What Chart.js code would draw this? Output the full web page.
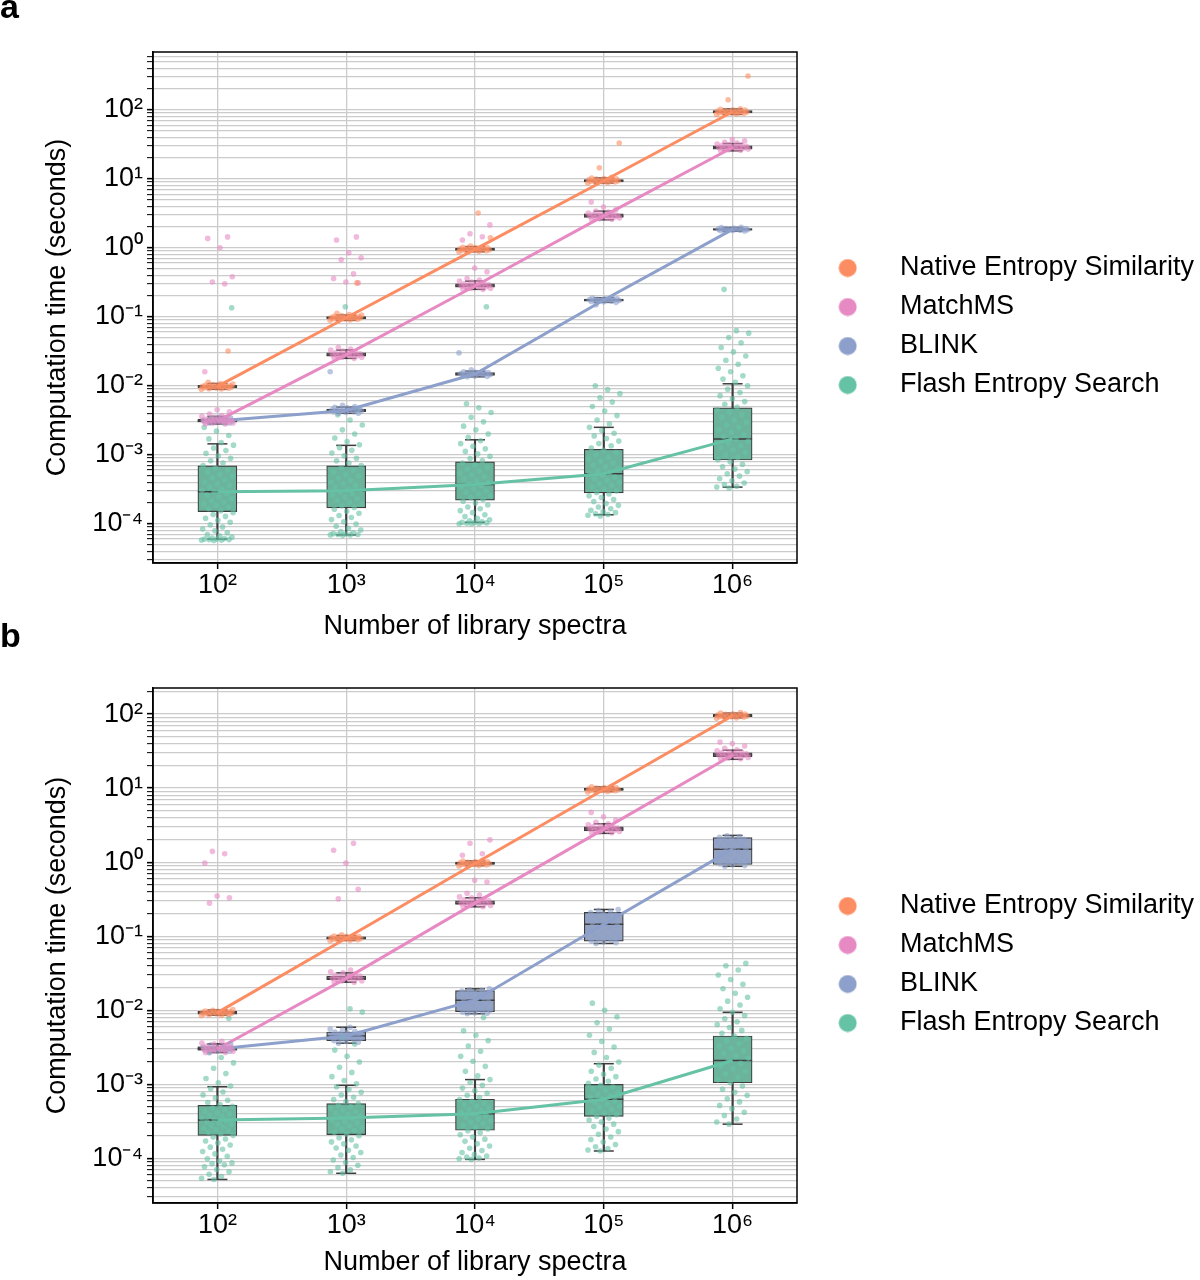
<!DOCTYPE html>
<html><head><meta charset="utf-8">
<script src="https://cdn.jsdelivr.net/npm/chart.js@4.4.1/dist/chart.umd.min.js"></script>
<style>
html,body{margin:0;padding:0;background:#fff;}
#wrap{position:relative;width:1200px;height:1280px;overflow:hidden;background:#fff;}
#ca{position:absolute;left:0;top:0;}
#cb{position:absolute;left:0;top:620px;}
</style></head><body>
<div id="wrap"><canvas id="ca" width="1200" height="640"></canvas><canvas id="cb" width="1200" height="660"></canvas></div>
<script>
// ---------------- DATA ----------------
const xLabels = ['10²', '10³', '10⁴', '10⁵', '10⁶'];
const seriesNames = ['Native Entropy Similarity', 'MatchMS', 'BLINK', 'Flash Entropy Search'];
const yDecadeExps = [-5, -4, -3, -2, -1, 0, 1, 2];
const yMinorMantissas = [1, 2, 3, 4, 5, 6, 7, 8, 9];
const yMajorExps = [-4, -3, -2, -1, 0, 1, 2];
const yMajorLabels = ['10⁻⁴', '10⁻³', '10⁻²', '10⁻¹', '10⁰', '10¹', '10²'];
const aYRange = [2.7e-5, 690];
const bYRange = [2.5e-5, 225];

// box statistics per library size: [lower whisker, Q1, median, Q3, upper whisker]
const aNativeStats = [[0.0089,0.0094,0.0098,0.0102,0.0108],[0.089,0.093,0.097,0.101,0.106],[0.88,0.92,0.95,0.99,1.04],[8.7,9.0,9.4,9.8,10.3],[86,90,94,98,103]];
const aMatchStats  = [[0.0028,0.0030,0.0031,0.0033,0.0036],[0.025,0.027,0.028,0.030,0.033],[0.25,0.27,0.28,0.30,0.33],[2.55,2.75,2.9,3.1,3.4],[25.5,27,28.5,30,32.5]];
const aBlinkStats  = [[0.0029,0.0030,0.0031,0.0032,0.0034],[0.0040,0.0042,0.0044,0.0046,0.0049],[0.0135,0.0142,0.0148,0.0155,0.0163],[0.162,0.169,0.175,0.181,0.189],[1.74,1.80,1.85,1.90,1.97]];
const aFlashStats  = [[6.0e-5,1.5e-4,2.9e-4,6.9e-4,1.44e-3],[6.9e-5,1.7e-4,3.0e-4,6.9e-4,1.37e-3],[1.05e-4,2.2e-4,3.7e-4,7.9e-4,1.65e-3],[1.35e-4,2.8e-4,5.3e-4,1.2e-3,2.5e-3],[3.4e-4,8.4e-4,1.7e-3,4.8e-3,1.07e-2]];

const bNativeStats = [[0.0086,0.0089,0.0093,0.0097,0.0101],[0.088,0.091,0.094,0.098,0.102],[0.90,0.93,0.96,1.00,1.04],[9.0,9.3,9.6,10.0,10.4],[89,92,95,99,103]];
const bMatchStats  = [[0.0027,0.0029,0.0030,0.0032,0.0035],[0.024,0.026,0.027,0.029,0.032],[0.25,0.27,0.28,0.30,0.33],[2.45,2.65,2.8,3.0,3.3],[24.5,26.5,28,30,32.5]];
const bBlinkStats  = [[0.0027,0.0029,0.0030,0.0032,0.0035],[0.0036,0.0039,0.0045,0.0051,0.0059],[0.0090,0.0096,0.0137,0.0185,0.0195],[0.080,0.086,0.145,0.21,0.23],[0.88,0.93,1.5,2.15,2.3]];
const bFlashStats  = [[5.2e-5,2.04e-4,3.3e-4,5.2e-4,9.3e-4],[6.3e-5,2.1e-4,3.5e-4,5.5e-4,9.7e-4],[9.7e-5,2.4e-4,4.0e-4,6.3e-4,1.16e-3],[1.26e-4,3.7e-4,6.3e-4,1.0e-3,1.9e-3],[2.9e-4,1.05e-3,2.1e-3,4.5e-3,9.4e-3]];

// individual query times (strip points) per library size
const aNativePts = [
  [0.0089,0.0090,0.0091,0.0092,0.0093,0.0094,0.0094,0.0095,0.0096,0.0096,0.0097,0.0097,0.0098,0.0098,0.0099,0.0099,0.0100,0.0101,0.0102,0.0103,0.0104,0.0106,0.0108,0.0112,0.032],
  [0.089,0.090,0.091,0.092,0.093,0.094,0.094,0.095,0.096,0.096,0.097,0.097,0.098,0.098,0.099,0.099,0.100,0.101,0.102,0.103,0.104,0.106,0.108,0.112,0.31],
  [0.88,0.89,0.90,0.91,0.92,0.92,0.93,0.94,0.94,0.95,0.95,0.96,0.96,0.97,0.98,0.99,1.00,1.01,1.02,1.04,1.06,1.4,3.2],
  [8.7,8.8,8.9,9.0,9.1,9.2,9.2,9.3,9.4,9.4,9.5,9.5,9.6,9.7,9.8,9.9,10.0,10.1,10.3,10.5,14.5,33],
  [86,87,88,89,90,91,91,92,93,93,94,94,95,96,97,98,99,100,102,104,140,310]];
const aMatchPts = [
  [0.0028,0.0028,0.0029,0.0029,0.0030,0.0030,0.0030,0.0031,0.0031,0.0031,0.0032,0.0032,0.0033,0.0033,0.0034,0.0035,0.0036,0.0037,0.0039,0.0042,0.0045,0.016,0.30,0.32,0.38,1.0,1.37,1.44],
  [0.025,0.025,0.026,0.026,0.027,0.027,0.027,0.028,0.028,0.028,0.029,0.029,0.030,0.030,0.031,0.032,0.033,0.034,0.036,0.31,0.32,0.36,0.42,0.67,0.72,0.85,1.3,1.44],
  [0.25,0.25,0.26,0.26,0.27,0.27,0.27,0.28,0.28,0.28,0.29,0.29,0.30,0.30,0.31,0.32,0.33,0.34,0.36,0.45,0.51,1.3,1.45,1.6,2.15],
  [2.55,2.6,2.65,2.7,2.72,2.75,2.8,2.82,2.85,2.9,2.92,2.95,3.0,3.05,3.1,3.15,3.2,3.3,3.4,3.55,3.9,4.6],
  [25.5,26,26.5,27,27.2,27.5,28,28.2,28.5,29,29.3,29.6,30,30.5,31,31.5,32,33,34,35.5,37]];
const aBlinkPts = [
  [0.0029,0.0029,0.0030,0.0030,0.0030,0.0031,0.0031,0.0031,0.0031,0.0032,0.0032,0.0032,0.0033,0.0033,0.0034,0.0035],
  [0.0040,0.0040,0.0041,0.0042,0.0042,0.0043,0.0043,0.0044,0.0044,0.0044,0.0045,0.0045,0.0046,0.0046,0.0047,0.0048,0.0049,0.0050,0.0052,0.016],
  [0.0135,0.0137,0.0139,0.0141,0.0143,0.0144,0.0145,0.0147,0.0148,0.0148,0.0149,0.0150,0.0152,0.0153,0.0155,0.0157,0.0160,0.0164,0.0170,0.030],
  [0.150,0.162,0.165,0.167,0.169,0.171,0.172,0.173,0.175,0.175,0.176,0.178,0.179,0.180,0.182,0.184,0.187,0.190],
  [1.74,1.76,1.78,1.79,1.80,1.81,1.83,1.84,1.85,1.85,1.86,1.87,1.88,1.90,1.91,1.93,1.96,1.99]];
const aFlashPts = [
  [5.7e-5,5.8e-5,5.8e-5,5.9e-5,5.9e-5,6.0e-5,6.0e-5,6.1e-5,6.2e-5,6.4e-5,6.7e-5,7.0e-5,7.4e-5,7.9e-5,8.4e-5,9.0e-5,9.7e-5,1.05e-4,1.12e-4,1.2e-4,1.28e-4,1.36e-4,1.45e-4,1.55e-4,1.65e-4,1.75e-4,1.85e-4,1.95e-4,2.05e-4,2.15e-4,2.3e-4,2.45e-4,2.6e-4,2.75e-4,2.9e-4,3.05e-4,3.2e-4,3.4e-4,3.6e-4,3.8e-4,4.0e-4,4.3e-4,4.6e-4,4.9e-4,5.2e-4,5.6e-4,6.0e-4,6.5e-4,7.0e-4,7.6e-4,8.2e-4,8.9e-4,9.6e-4,1.05e-3,1.15e-3,1.25e-3,1.38e-3,1.5e-3,1.7e-3,1.9e-3,2.2e-3,2.5e-3,2.9e-3,3.4e-3,0.135],
  [6.8e-5,6.9e-5,6.9e-5,7.0e-5,7.0e-5,7.1e-5,7.2e-5,7.4e-5,7.7e-5,8.1e-5,8.6e-5,9.2e-5,9.9e-5,1.07e-4,1.15e-4,1.23e-4,1.32e-4,1.42e-4,1.52e-4,1.62e-4,1.72e-4,1.82e-4,1.93e-4,2.05e-4,2.17e-4,2.3e-4,2.45e-4,2.6e-4,2.75e-4,2.9e-4,3.05e-4,3.2e-4,3.4e-4,3.6e-4,3.8e-4,4.0e-4,4.3e-4,4.6e-4,4.9e-4,5.2e-4,5.6e-4,6.0e-4,6.5e-4,7.0e-4,7.6e-4,8.2e-4,8.9e-4,9.7e-4,1.06e-3,1.16e-3,1.27e-3,1.4e-3,1.55e-3,1.75e-3,2.0e-3,2.3e-3,2.7e-3,3.2e-3,3.8e-3,4.5e-3,0.14],
  [1.0e-4,1.0e-4,1.01e-4,1.02e-4,1.03e-4,1.04e-4,1.05e-4,1.07e-4,1.1e-4,1.14e-4,1.2e-4,1.27e-4,1.35e-4,1.45e-4,1.55e-4,1.65e-4,1.75e-4,1.87e-4,2.0e-4,2.12e-4,2.25e-4,2.4e-4,2.55e-4,2.7e-4,2.85e-4,3.0e-4,3.2e-4,3.4e-4,3.6e-4,3.8e-4,4.0e-4,4.25e-4,4.5e-4,4.8e-4,5.1e-4,5.4e-4,5.8e-4,6.2e-4,6.6e-4,7.1e-4,7.6e-4,8.2e-4,8.8e-4,9.5e-4,1.03e-3,1.12e-3,1.22e-3,1.33e-3,1.45e-3,1.6e-3,1.8e-3,2.0e-3,2.3e-3,2.6e-3,3.0e-3,3.5e-3,4.1e-3,4.8e-3,5.5e-3,0.14],
  [1.3e-4,1.33e-4,1.36e-4,1.4e-4,1.45e-4,1.5e-4,1.57e-4,1.65e-4,1.75e-4,1.85e-4,1.97e-4,2.1e-4,2.25e-4,2.4e-4,2.55e-4,2.7e-4,2.85e-4,3.0e-4,3.2e-4,3.4e-4,3.6e-4,3.8e-4,4.0e-4,4.25e-4,4.5e-4,4.75e-4,5.0e-4,5.3e-4,5.6e-4,5.9e-4,6.3e-4,6.7e-4,7.1e-4,7.6e-4,8.1e-4,8.7e-4,9.3e-4,1.0e-3,1.08e-3,1.16e-3,1.25e-3,1.35e-3,1.46e-3,1.58e-3,1.72e-3,1.88e-3,2.05e-3,2.25e-3,2.5e-3,2.8e-3,3.2e-3,3.7e-3,4.3e-3,5.0e-3,5.8e-3,6.7e-3,7.7e-3,8.8e-3,1.0e-2],
  [3.3e-4,3.4e-4,3.5e-4,3.7e-4,3.9e-4,4.2e-4,4.5e-4,4.9e-4,5.3e-4,5.7e-4,6.2e-4,6.7e-4,7.3e-4,7.9e-4,8.5e-4,9.2e-4,1.0e-3,1.08e-3,1.17e-3,1.26e-3,1.36e-3,1.47e-3,1.58e-3,1.7e-3,1.83e-3,1.97e-3,2.12e-3,2.3e-3,2.5e-3,2.7e-3,2.95e-3,3.2e-3,3.5e-3,3.8e-3,4.15e-3,4.5e-3,4.9e-3,5.4e-3,5.9e-3,6.5e-3,7.2e-3,8.0e-3,8.9e-3,1.0e-2,1.12e-2,1.25e-2,1.4e-2,1.6e-2,1.8e-2,2.05e-2,2.35e-2,2.7e-2,3.1e-2,3.6e-2,4.2e-2,5.0e-2,5.8e-2,6.3e-2,0.25]];

const bNativePts = [
  [0.0085,0.0086,0.0087,0.0088,0.0089,0.0089,0.0090,0.0091,0.0091,0.0092,0.0093,0.0093,0.0094,0.0094,0.0095,0.0096,0.0096,0.0097,0.0098,0.0099,0.0100,0.0102],
  [0.087,0.088,0.089,0.090,0.091,0.091,0.092,0.093,0.093,0.094,0.094,0.095,0.096,0.096,0.097,0.098,0.099,0.100,0.101,0.103,0.105],
  [0.89,0.90,0.91,0.92,0.93,0.93,0.94,0.95,0.95,0.96,0.96,0.97,0.98,0.98,0.99,1.00,1.01,1.02,1.04,1.06],
  [8.9,9.0,9.1,9.2,9.3,9.3,9.4,9.5,9.5,9.6,9.6,9.7,9.8,9.8,9.9,10.0,10.1,10.2,10.4,10.6],
  [88,89,90,91,92,92,93,94,94,95,95,96,97,97,98,99,100,101,103,105]];
const bMatchPts = [
  [0.0027,0.0027,0.0028,0.0028,0.0029,0.0029,0.0030,0.0030,0.0030,0.0031,0.0031,0.0032,0.0032,0.0033,0.0034,0.0035,0.0036,0.0038,0.28,0.33,0.35,0.97,1.3,1.4],
  [0.024,0.024,0.025,0.025,0.026,0.026,0.027,0.027,0.027,0.028,0.028,0.029,0.029,0.030,0.031,0.032,0.033,0.035,0.32,0.43,0.97,1.45,1.8],
  [0.25,0.25,0.26,0.26,0.27,0.27,0.28,0.28,0.28,0.29,0.29,0.30,0.30,0.31,0.32,0.33,0.34,0.36,0.38,0.54,0.57,1.24,1.3,1.8,2.0],
  [2.45,2.5,2.55,2.6,2.65,2.7,2.72,2.75,2.8,2.82,2.85,2.9,2.95,3.0,3.05,3.1,3.2,3.3,3.45,3.7,4.1,4.7],
  [24.5,25,25.5,26,26.5,27,27.3,27.6,28,28.3,28.6,29,29.5,30,30.5,31,32,33,34.5,37,40,42]];
const bBlinkPts = [
  [0.0027,0.0028,0.0028,0.0029,0.0029,0.0030,0.0030,0.0030,0.0031,0.0031,0.0032,0.0032,0.0033,0.0034,0.0035],
  [0.0036,0.0037,0.0038,0.0039,0.0040,0.0041,0.0042,0.0043,0.0044,0.0044,0.0045,0.0046,0.0047,0.0048,0.0049,0.0050,0.0051,0.0052,0.0054,0.0056,0.0059],
  [0.0090,0.0091,0.0092,0.0094,0.0096,0.0098,0.0100,0.0103,0.0106,0.0110,0.0114,0.0118,0.0122,0.0127,0.0132,0.0137,0.0142,0.0147,0.0152,0.0157,0.0162,0.0167,0.0172,0.0177,0.0182,0.0186,0.0190,0.0195],
  [0.080,0.082,0.084,0.086,0.089,0.092,0.096,0.100,0.105,0.110,0.115,0.121,0.127,0.133,0.139,0.145,0.152,0.159,0.166,0.173,0.180,0.188,0.195,0.202,0.209,0.216,0.223,0.230],
  [0.88,0.90,0.92,0.95,0.98,1.02,1.06,1.10,1.15,1.20,1.26,1.32,1.38,1.44,1.50,1.57,1.64,1.71,1.78,1.85,1.92,1.98,2.04,2.10,2.16,2.22,2.28]];
const bFlashPts = [
  [5.2e-5,5.4e-5,5.7e-5,6.1e-5,6.6e-5,7.1e-5,7.7e-5,8.2e-5,8.5e-5,8.7e-5,9.2e-5,9.9e-5,1.07e-4,1.15e-4,1.24e-4,1.33e-4,1.42e-4,1.52e-4,1.62e-4,1.72e-4,1.83e-4,1.95e-4,2.05e-4,2.15e-4,2.25e-4,2.35e-4,2.45e-4,2.55e-4,2.66e-4,2.77e-4,2.88e-4,3.0e-4,3.12e-4,3.25e-4,3.38e-4,3.52e-4,3.67e-4,3.82e-4,3.98e-4,4.15e-4,4.35e-4,4.55e-4,4.8e-4,5.05e-4,5.35e-4,5.7e-4,6.1e-4,6.6e-4,7.2e-4,7.9e-4,8.7e-4,9.5e-4,1.05e-3,1.2e-3,1.4e-3,1.65e-3,1.95e-3,2.3e-3,2.7e-3,7.8e-3],
  [6.3e-5,6.6e-5,7.0e-5,7.5e-5,8.1e-5,8.8e-5,9.5e-5,1.03e-4,1.11e-4,1.2e-4,1.29e-4,1.38e-4,1.47e-4,1.57e-4,1.67e-4,1.78e-4,1.9e-4,2.02e-4,2.14e-4,2.26e-4,2.38e-4,2.5e-4,2.62e-4,2.75e-4,2.88e-4,3.01e-4,3.15e-4,3.3e-4,3.45e-4,3.6e-4,3.76e-4,3.93e-4,4.1e-4,4.3e-4,4.5e-4,4.72e-4,4.96e-4,5.22e-4,5.5e-4,5.85e-4,6.25e-4,6.7e-4,7.2e-4,7.8e-4,8.5e-4,9.3e-4,1.02e-3,1.13e-3,1.27e-3,1.45e-3,1.7e-3,2.0e-3,2.4e-3,2.9e-3,3.5e-3,4.3e-3,9.5e-3,1.05e-2],
  [9.7e-5,9.9e-5,1.01e-4,1.04e-4,1.08e-4,1.13e-4,1.2e-4,1.28e-4,1.37e-4,1.47e-4,1.58e-4,1.7e-4,1.82e-4,1.95e-4,2.08e-4,2.22e-4,2.36e-4,2.5e-4,2.65e-4,2.8e-4,2.95e-4,3.1e-4,3.26e-4,3.43e-4,3.6e-4,3.78e-4,3.97e-4,4.17e-4,4.38e-4,4.6e-4,4.83e-4,5.07e-4,5.33e-4,5.6e-4,5.9e-4,6.25e-4,6.65e-4,7.1e-4,7.6e-4,8.2e-4,8.9e-4,9.7e-4,1.06e-3,1.16e-3,1.3e-3,1.5e-3,1.75e-3,2.05e-3,2.4e-3,2.8e-3,3.3e-3,3.9e-3,4.6e-3,5.3e-3,8.0e-3],
  [1.26e-4,1.3e-4,1.36e-4,1.44e-4,1.54e-4,1.66e-4,1.8e-4,1.95e-4,2.12e-4,2.3e-4,2.5e-4,2.7e-4,2.9e-4,3.1e-4,3.3e-4,3.5e-4,3.7e-4,3.9e-4,4.1e-4,4.35e-4,4.6e-4,4.85e-4,5.1e-4,5.4e-4,5.7e-4,6.0e-4,6.3e-4,6.65e-4,7.0e-4,7.4e-4,7.8e-4,8.25e-4,8.7e-4,9.2e-4,9.7e-4,1.03e-3,1.1e-3,1.18e-3,1.27e-3,1.37e-3,1.5e-3,1.65e-3,1.82e-3,2.0e-3,2.3e-3,2.7e-3,3.2e-3,3.8e-3,4.6e-3,5.6e-3,6.8e-3,8.2e-3,1.0e-2,1.25e-2],
  [2.9e-4,3.1e-4,3.4e-4,3.8e-4,4.2e-4,4.7e-4,5.2e-4,5.8e-4,6.4e-4,7.1e-4,7.8e-4,8.6e-4,9.5e-4,1.05e-3,1.15e-3,1.26e-3,1.38e-3,1.5e-3,1.63e-3,1.77e-3,1.92e-3,2.08e-3,2.25e-3,2.43e-3,2.62e-3,2.83e-3,3.05e-3,3.3e-3,3.57e-3,3.86e-3,4.17e-3,4.5e-3,4.9e-3,5.35e-3,5.85e-3,6.4e-3,7.0e-3,7.7e-3,8.5e-3,9.4e-3,1.05e-2,1.18e-2,1.33e-2,1.5e-2,1.7e-2,1.95e-2,2.25e-2,2.6e-2,3.0e-2,3.5e-2,4.0e-2,4.3e-2]];

// ---------------- STYLE ----------------
const FONT = "'Liberation Sans', Arial, Helvetica, sans-serif";
Chart.defaults.font.family = FONT;
Chart.defaults.font.size = 27;
Chart.defaults.color = '#000';
const seriesColors = ['#fc8d62', '#e78ac3', '#8da0cb', '#66c2a5'];
const boxColors = ['#e99575', '#db96c1', '#95a3c3', '#6cb39c'];
const EDGE = '#3d3d3d';
const GRID = '#cbcbcb';

function rgba(hex, a) {
  const n = parseInt(hex.slice(1), 16);
  return `rgba(${(n >> 16) & 255},${(n >> 8) & 255},${n & 255},${a})`;
}
function legendDot(color) {
  const c = document.createElement('canvas');
  c.width = 19; c.height = 19;
  const g = c.getContext('2d');
  g.fillStyle = color; g.beginPath(); g.arc(9.5, 9.5, 9, 0, Math.PI * 2); g.fill();
  return c;
}
const legendDots = seriesColors.map(legendDot);
function jitter(k, s) { return (((k * 0.6180339887 + s * 0.13) % 1) - 0.5) * 0.25; }

const yTickValues = yDecadeExps.flatMap(e => yMinorMantissas.map(m => +(m * Math.pow(10, e)).toPrecision(6)));
function majorExp(v) {
  const l = Math.log10(v), r = Math.round(l);
  return Math.abs(l - r) < 1e-6 ? r : null;
}
function yLabel(v) {
  const e = majorExp(v);
  const idx = e === null ? -1 : yMajorExps.indexOf(e);
  return idx >= 0 ? yMajorLabels[idx] : '';
}

const framePlugin = {
  id: 'frame',
  afterDatasetsDraw(chart) {
    const {ctx, chartArea: a} = chart;
    ctx.save();
    ctx.strokeStyle = '#000'; ctx.lineWidth = 1.5;
    ctx.strokeRect(a.left, a.top, a.right - a.left, a.bottom - a.top);
    ctx.restore();
  }
};

function makePanel(id, label, stats, pts, yRange, lay) {
  const [yMin, yMax] = yRange;
  const datasets = [];
  stats.forEach((st, s) => {
    const p = pts[s];
    datasets.push({type: 'scatter', data: p.flatMap((arr, i) => arr.map((v, k) => ({x: i + jitter(k, s), y: v}))),
      backgroundColor: rgba(seriesColors[s], 0.6), borderWidth: 0, pointBorderWidth: 0, pointRadius: 2.8, order: s * 0.01});
    datasets.push({type: 'line', data: st.map((q, i) => ({x: i, y: q[2]})), borderColor: seriesColors[s],
      borderWidth: 3, pointRadius: 0, tension: 0, fill: false, order: 1 + s * 0.01});
    datasets.push({type: 'scatter', data: st.map((q, i) => ({x: i, y: q[2]})), pointStyle: 'line', pointRadius: 19.5,
      borderColor: EDGE, pointBorderColor: EDGE, pointBorderWidth: 1.5, order: 2 + s * 0.01});
    datasets.push({type: 'scatter', data: st.flatMap((q, i) => [{x: i, y: q[0]}, {x: i, y: q[4]}]), pointStyle: 'line', pointRadius: 10,
      borderColor: EDGE, pointBorderColor: EDGE, pointBorderWidth: 1.5, order: 3 + s * 0.01});
    datasets.push({type: 'bar', data: st.map((q, i) => ({x: i, y: [q[1], q[3]]})), backgroundColor: boxColors[s],
      borderColor: EDGE, borderWidth: 1.2, borderSkipped: false, barThickness: 39, grouped: false, order: 4 + s * 0.01});
    datasets.push({type: 'bar', data: st.map((q, i) => ({x: i, y: [q[0], q[4]]})), backgroundColor: EDGE,
      borderWidth: 0, barThickness: 1.5, grouped: false, order: 5 + s * 0.01});
  });

  return new Chart(document.getElementById(id), {
    type: 'scatter',
    data: {datasets},
    options: {
      responsive: false, animation: false, events: [],
      layout: {padding: {top: lay.top, left: 0, right: 0, bottom: 0}},
      plugins: {
        tooltip: {enabled: false},
        title: {display: true, text: label, align: 'start', color: '#000',
          font: {size: 34, weight: 'bold', lineHeight: 0}, padding: {top: lay.titleTop, bottom: lay.titleBottom}},
        legend: {
          position: 'right', align: 'center', maxWidth: 403, onClick: null,
          labels: {
            usePointStyle: true, pointStyleWidth: 77.5, padding: 12, color: '#000', font: {size: 27},
            generateLabels: () => seriesNames.map((n, s) => ({text: n, pointStyle: legendDots[s], fillStyle: seriesColors[s],
              strokeStyle: seriesColors[s], lineWidth: 0, hidden: false, datasetIndex: s * 6, fontColor: '#000'}))
          }
        }
      },
      scales: {
        x: {
          type: 'linear', min: -0.5, max: 4.5, offset: false,
          afterBuildTicks: sc => { sc.ticks = xLabels.map((_, i) => ({value: i})); },
          afterFit: sc => { sc.height = 77; },
          ticks: {autoSkip: false, maxRotation: 0, padding: 0, color: '#000', font: {size: 27},
            callback: v => (xLabels[v] !== undefined ? xLabels[v] : '')},
          grid: {offset: false, color: GRID, lineWidth: 1.3, tickColor: '#000', tickLength: 6, tickWidth: 1.5},
          border: {display: true, color: '#000', width: 1.5},
          title: {display: true, text: 'Number of library spectra', color: '#000', font: {size: 27, lineHeight: 1},
            padding: {top: 0, bottom: lay.xTitleBottom}}
        },
        y: {
          type: 'logarithmic', min: yMin, max: yMax, offset: false,
          afterBuildTicks: sc => { sc.ticks = yTickValues.filter(v => v >= yMin && v <= yMax).map(v => ({value: v})); },
          afterFit: sc => { sc.width = 153; },
          ticks: {autoSkip: false, padding: 4, color: '#000', font: {size: 27}, callback: v => yLabel(v)},
          grid: {offset: false, color: GRID, lineWidth: 1.3, tickColor: '#000', tickLength: 6,
            tickWidth: c => (c.tick && majorExp(c.tick.value) !== null ? 1.6 : 1)},
          border: {display: true, color: '#000', width: 1.5},
          title: {display: true, text: 'Computation time (seconds)', color: '#000', font: {size: 27, lineHeight: 1},
            padding: {top: 44.5, bottom: 0}}
        }
      }
    },
    plugins: [framePlugin]
  });
}

makePanel('ca', 'a', [aNativeStats, aMatchStats, aBlinkStats, aFlashStats], [aNativePts, aMatchPts, aBlinkPts, aFlashPts], aYRange,
  {top: 13, titleTop: -4, titleBottom: 43, xTitleBottom: 0});
makePanel('cb', 'b', [bNativeStats, bMatchStats, bBlinkStats, bFlashStats], [bNativePts, bMatchPts, bBlinkPts, bFlashPts], bYRange,
  {top: 29, titleTop: -11, titleBottom: 50, xTitleBottom: 3.5});
</script></body></html>
